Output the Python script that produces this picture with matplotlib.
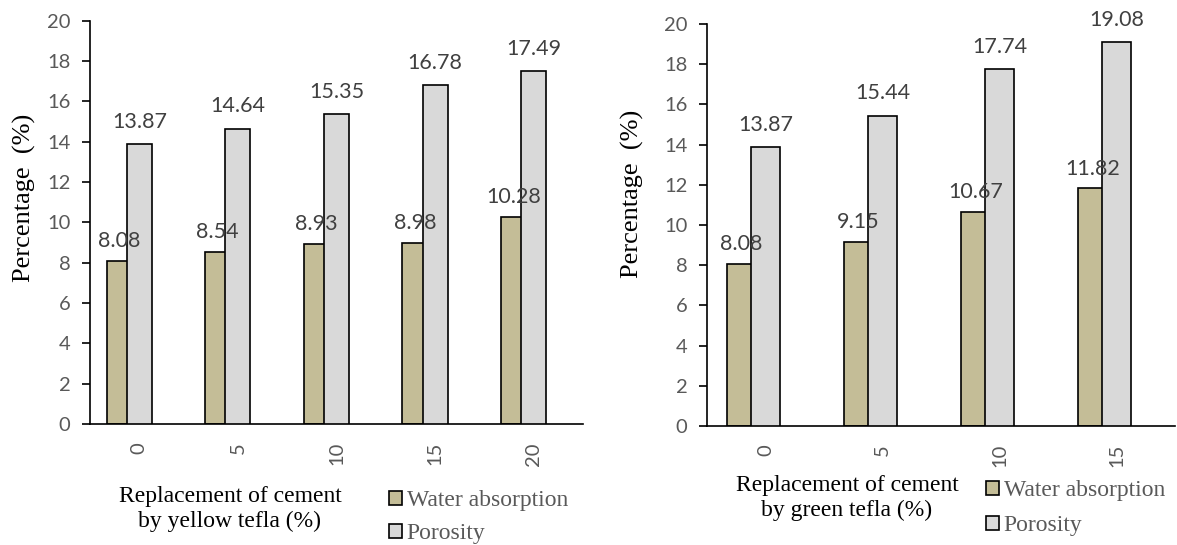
import matplotlib
matplotlib.use('Agg')
import matplotlib.pyplot as plt
from matplotlib.patches import Patch
import numpy as np

# data
yellow_levels = ['0', '5', '10', '15', '20']
yellow_water = [8.08, 8.54, 8.93, 8.98, 10.28]
yellow_porosity = [13.87, 14.64, 15.35, 16.78, 17.49]

green_levels = ['0', '5', '10', '15']
green_water = [8.08, 9.15, 10.67, 11.82]
green_porosity = [13.87, 15.44, 17.74, 19.08]

series_names = ['Water absorption', 'Porosity']
water_color = '#C4BD97'
porosity_color = '#D9D9D9'

W, H = 1177, 545
fig = plt.figure(figsize=(W / 100, H / 100), dpi=100)

SANS = 'Lato'
SERIF = 'Liberation Serif'
GRAY = '#595959'
LABEL_GRAY = '#404040'


def px_axes(left, top, right, bottom):
    return fig.add_axes([left / W, 1 - bottom / H, (right - left) / W, (bottom - top) / H])


def draw_panel(ax, levels, water, porosity, xtitle, xtitle_pos, legend_pos,
               ylabel_pos, legend_gap):
    x = np.arange(len(levels))
    width = 0.255
    b1 = ax.bar(x - 0.8 * width, water, width, color=water_color,
                edgecolor='black', linewidth=1.2, zorder=2)
    b2 = ax.bar(x, porosity, width, color=porosity_color,
                edgecolor='black', linewidth=1.2, zorder=3)

    # value labels above bars
    for bars, vals, off in ((b1, water, 7), (b2, porosity, 9)):
        for bar, v in zip(bars, vals):
            ax.annotate(f'{v:.2f}', (bar.get_x() + bar.get_width() / 2, v),
                        xytext=(0, off), textcoords='offset points',
                        ha='center', va='bottom', fontsize=15.5,
                        family=SANS, color=LABEL_GRAY, zorder=4,
                        annotation_clip=False)

    ax.set_xlim(-0.5, len(levels) - 0.5)
    ax.set_ylim(0, 20)
    ax.set_yticks(np.arange(0, 21, 2))
    ax.set_xticks(x)
    ax.set_xticklabels(levels, rotation=90, family=SANS, fontsize=14.5, color=GRAY)
    ax.tick_params(axis='x', length=0, pad=13)
    ax.tick_params(axis='y', length=6, width=1.2, direction='out', pad=8,
                   labelsize=14.5, labelcolor=GRAY)
    for lab in ax.get_yticklabels():
        lab.set_family(SANS)
    ax.spines['top'].set_visible(False)
    ax.spines['right'].set_visible(False)
    ax.spines['left'].set_linewidth(1.2)
    ax.spines['bottom'].set_linewidth(1.2)

    ax.set_ylabel('Percentage  (%)', family=SERIF, fontsize=19, color='black')
    ax.yaxis.set_label_coords(*ylabel_pos)

    fig.text(xtitle_pos[0] / W, 1 - xtitle_pos[1] / H, xtitle, family=SERIF,
             fontsize=17, ha='center', va='center', linespacing=1.2)

    handles = [Patch(facecolor=water_color, edgecolor='black', linewidth=1.2),
               Patch(facecolor=porosity_color, edgecolor='black', linewidth=1.2)]
    leg = fig.legend(handles, series_names, loc='upper left',
                     bbox_to_anchor=(legend_pos[0] / W, 1 - legend_pos[1] / H),
                     frameon=False, handlelength=0.55, handleheight=0.55,
                     handletextpad=0.2, labelspacing=legend_gap, borderaxespad=0,
                     borderpad=0, prop={'family': SERIF, 'size': 17})
    for t in leg.get_texts():
        t.set_color(GRAY)


ax1 = px_axes(90, 20.5, 583, 424)
draw_panel(ax1, yellow_levels, yellow_water, yellow_porosity,
           'Replacement of cement\nby yellow tefla (%)', (230, 509),
           (389, 490), (-0.11, 0.56), 0.52)

ax2 = px_axes(707, 24, 1175, 426)
draw_panel(ax2, green_levels, green_water, green_porosity,
           'Replacement of cement\nby green tefla (%)', (847, 498),
           (986, 480), (-0.135, 0.577), 0.6)

plt.savefig('out.png', dpi=100)
plt.close()
